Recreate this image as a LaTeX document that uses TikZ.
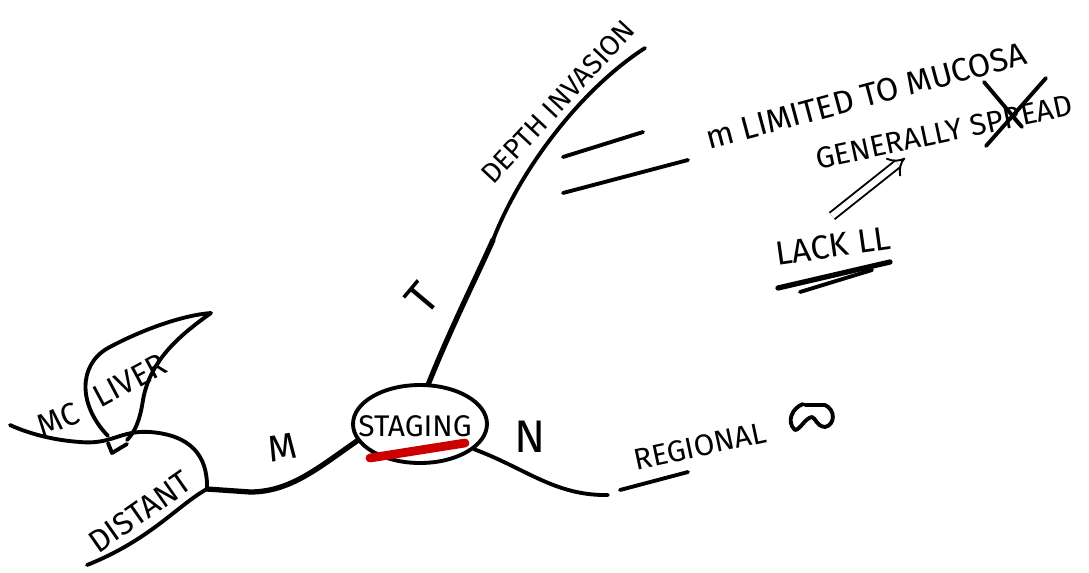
\documentclass[tikz,border=0pt]{standalone}
\usepackage{fontspec}
\setsansfont{Fira Sans}
\usetikzlibrary{positioning,arrows.meta,shapes.geometric}

\tikzset{
  ink/.style={line width=2.2pt, line cap=round, line join=round},
  thick ink/.style={line width=3pt, line cap=round, line join=round},
  hand/.style={font=\sffamily\fontsize{17}{20}\selectfont, inner sep=1pt},
  big hand/.style={font=\sffamily\fontsize{26}{30}\selectfont, inner sep=1pt},
  marker/.style={line width=5pt, line cap=round, red!80!black},
}

\begin{document}
\begin{tikzpicture}[x=0.02cm, y=-0.02cm]
  \useasboundingbox (0,0) rectangle (1089,572);

  % centre of the map
  \node [ellipse, draw, ink, inner sep=0pt, minimum width=2.68cm, minimum height=1.56cm] (staging) at (420,424) {};
  \node [hand] (stagingtxt) at (415,426) {STAGING};
  \draw [marker] (370,458) -- (465,443);

  % free ends of the branches
  \coordinate (tKink) at (493,240);
  \coordinate (tEnd) at (645,48);
  \coordinate (nEnd) at (608,495);
  \coordinate (jct) at (207,489);
  \coordinate (dEnd) at (87,565);
  \coordinate (mcEnd) at (10,425);

  % T branch
  \draw [thick ink] (staging.78) .. controls (450,330) and (475,280) .. (tKink);
  \draw [ink] (tKink) .. controls (520,170) and (580,90) .. (tEnd);
  \node [big hand, rotate=50] (t) at (422,298) {T};
  \node [hand, font=\sffamily\fontsize{16}{19}\selectfont, rotate=47] (depth) at (558,102) {DEPTH INVASION};

  \draw [ink] (563,157) -- (643,132);
  \draw [ink] (563,193) -- (688,160);
  \node [hand, font=\sffamily\fontsize{18.5}{22}\selectfont, rotate=15] (mucosa) at (866,96) {m LIMITED TO MUCOSA};
  \node [hand, rotate=12] (spread) at (944,132) {GENERALLY SPREAD};
  \draw [ink] (984,82) -- (1022,127);
  \draw [ink] (1046,78) -- (986,146);

  \node [hand, font=\sffamily\fontsize{19}{22}\selectfont, rotate=8] (lack) at (833,246) {LACK LL};
  \draw [thick ink] (778,288) -- (890,262);
  \draw [ink] (800,292) -- (872,270);
  \coordinate (arrS) at (832,216);
  \coordinate (arrE) at (905,158);
  \draw [line width=1.1pt, double distance=3.5pt, -{Implies}] (arrS) -- (arrE);

  % N branch
  \draw [ink] (staging.-25) .. controls (525,468) and (555,496) .. (nEnd);
  \node [big hand] (n) at (530,437) {N};
  \draw [ink] (620,490) -- (688,472);
  \node [hand, rotate=12] (regional) at (700,446) {REGIONAL};
  \draw [ink] (803,404) .. controls (792,408) and (786,422) .. (795,430)
        .. controls (800,430) and (805,418) .. (812,417)
        .. controls (816,418) and (816,426) .. (825,427)
        .. controls (835,425) and (836,410) .. (825,405) -- (805,405);

  % M branch
  \draw [thick ink] (staging.195) .. controls (318,468) and (290,492) .. (250,492) -- (jct);
  \node [hand, font=\sffamily\fontsize{21}{24}\selectfont, rotate=10] (m) at (282,447) {M};
  \draw [ink] (jct) .. controls (178,505) and (150,540) .. (dEnd);
  \node [hand, font=\sffamily\fontsize{18}{21}\selectfont, rotate=35] (distant) at (140,512) {DISTANT};
  \draw [ink] (jct) .. controls (208,455) and (190,435) .. (150,432)
        .. controls (120,430) and (112,445) .. (80,442)
        .. controls (50,440) and (25,432) .. (mcEnd);
  \node [hand, font=\sffamily\fontsize{18}{21}\selectfont, rotate=22] (mc) at (58,420) {MC};

  % liver leaf
  \draw [ink] (108,436) .. controls (78,405) and (78,365) .. (108,348)
        .. controls (145,328) and (185,315) .. (211,313)
        .. controls (180,335) and (150,360) .. (143,400)
        .. controls (140,420) and (135,432) .. (127,440);
  \draw [ink] (108,443) -- (112,453) -- (127,444);
  \node [hand, font=\sffamily\fontsize{18}{21}\selectfont, rotate=28] (liver) at (130,380) {LIVER};
\end{tikzpicture}
\end{document}
